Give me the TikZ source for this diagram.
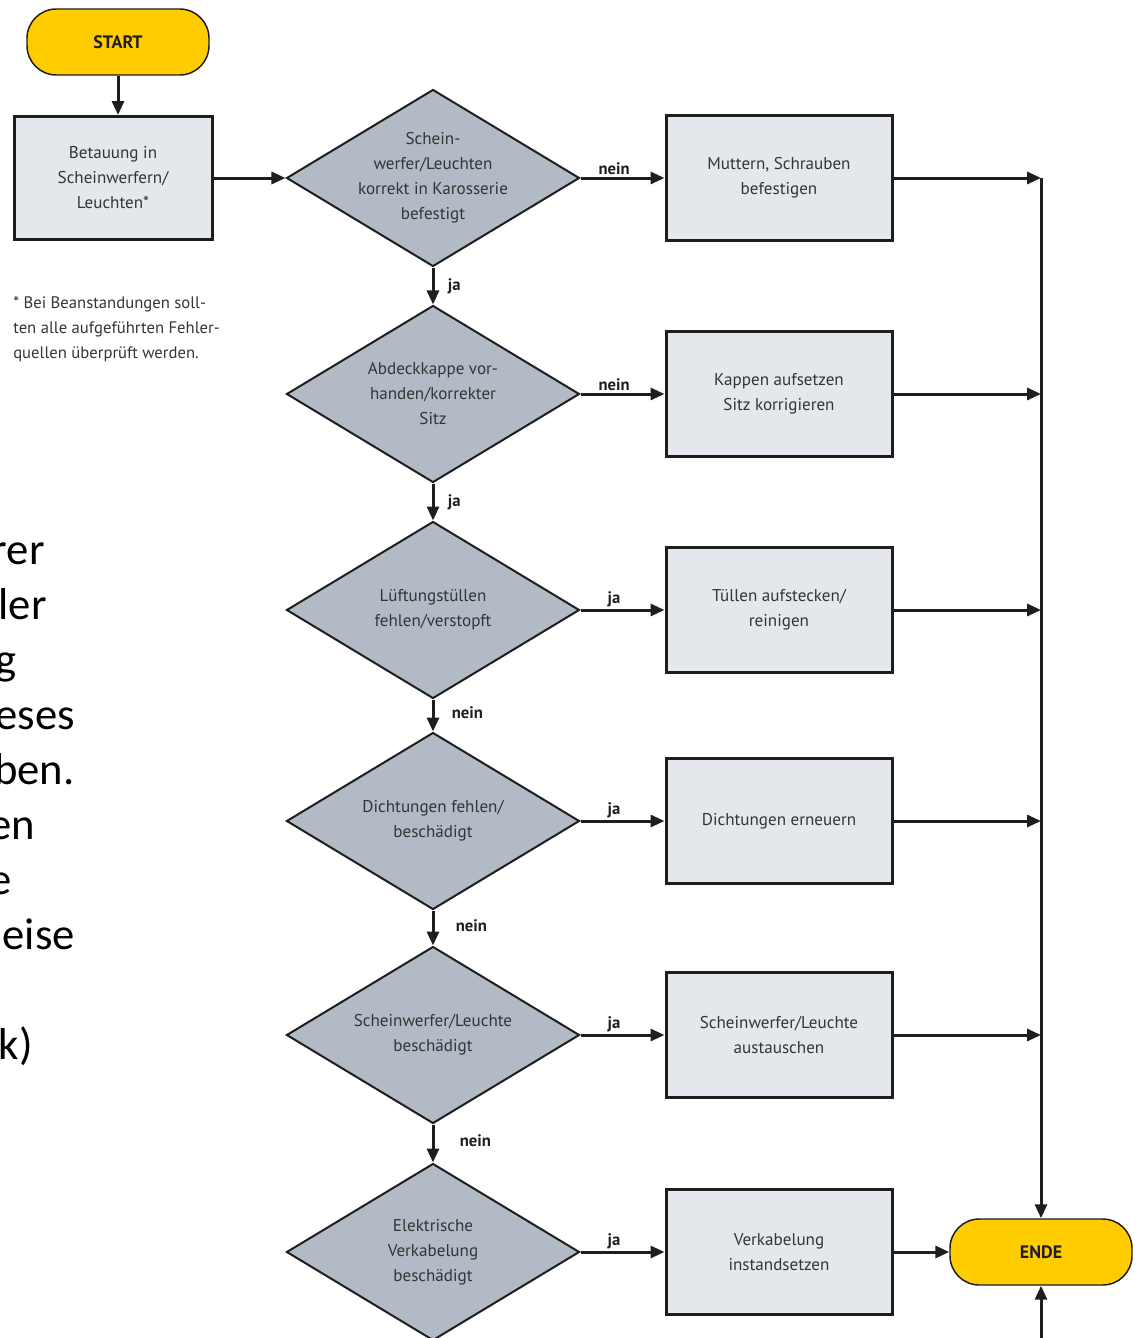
\documentclass[tikz,border=0pt]{standalone}
\usepackage{fontspec}
\setmainfont{PT Sans}
\newfontfamily\slidefont{Carlito}
\usetikzlibrary{shapes.geometric, arrows.meta}
\definecolor{startyellow}{HTML}{FFCC00}
\definecolor{boxgrey}{HTML}{E4E7EC}
\definecolor{diagrey}{HTML}{B1BAC5}
\definecolor{txtgrey}{HTML}{353535}
\definecolor{linegrey}{HTML}{1E1E1E}

\begin{document}
\begin{tikzpicture}[x=0.75pt,y=0.75pt,yscale=-1,
  arr/.style={draw=linegrey, line width=2.25pt, -{Triangle[length=10.5pt,width=9pt]}},
  term/.style={rectangle, rounded corners=22pt, draw=linegrey, line width=1.1pt, fill=startyellow, minimum width=136.5pt, minimum height=49.5pt, font=\bfseries\fontsize{13.5}{15}\selectfont, text=linegrey},
  stepbox/.style={rectangle, draw=linegrey, line width=2.25pt, fill=boxgrey, minimum width=169.5pt, minimum height=93.75pt, align=center, text=txtgrey, font=\fontsize{12.8}{18.75}\selectfont},
  query/.style={diamond, draw=linegrey, line width=1.5pt, fill=diagrey, minimum width=219.75pt, minimum height=132.75pt, inner sep=0pt},
  qtext/.style={align=center, text=txtgrey, font=\fontsize{12.8}{18.75}\selectfont, inner sep=0pt},
  lbl/.style={font=\bfseries\fontsize{12.5}{14}\selectfont, text=linegrey, inner sep=1pt},
  frag/.style={anchor=base east, font=\slidefont\fontsize{33.5}{40}\selectfont, inner sep=0pt}
]
\useasboundingbox (0,0) rectangle (1138,1338);
\clip (0,0) rectangle (1138,1338);

%Slide text cut off at the left edge
\node[frag] (frag1) at (45,564) {rer};
\node[frag] (frag2) at (47,619) {ler};
\node[frag] (frag3) at (17,674) {g};
\node[frag] (frag4) at (75,729) {eses};
\node[frag] (frag5) at (75,784) {ben.};
\node[frag] (frag6) at (35,839) {en};
\node[frag] (frag7) at (12,894) {e};
\node[frag] (frag8) at (75,949) {eise};
\node[frag] (frag9) at (33,1059) {k)};

%Terminals
\node[term] (start) at (118,42) {START};
\node[term] (ende) at (1041,1252) {ENDE};

%Entry box
\node[stepbox, minimum width=148.5pt, minimum height=92.25pt] (b0) at (113,178) {Betauung in\\Scheinwerfern/\\Leuchten*};

% Text Node
\node[anchor=north west, align=left, text=txtgrey, font=\fontsize{12.5}{18.75}\selectfont, inner sep=0pt] (note) at (13,296) {* Bei Beanstandungen soll-\\ten alle aufgeführten Fehler-\\quellen überprüft werden.};

%Decisions
\node[query] (d1) at (433,178) {};
\node[qtext] (d1t) at (d1) {Schein-\\werfer/Leuchten\\korrekt in Karosserie\\befestigt};
\node[query] (d2) at (433,394) {};
\node[qtext] (d2t) at (d2) {Abdeckkappe vor-\\handen/korrekter\\Sitz};
\node[query] (d3) at (433,610) {};
\node[qtext] (d3t) at (d3) {Lüftungstüllen\\fehlen/verstopft};
\node[query] (d4) at (433,821) {};
\node[qtext] (d4t) at (d4) {Dichtungen fehlen/\\beschädigt};
\node[query] (d5) at (433,1035) {};
\node[qtext] (d5t) at (d5) {Scheinwerfer/Leuchte\\beschädigt};
\node[query] (d6) at (433,1252) {};
\node[qtext] (d6t) at (d6) {Elektrische\\Verkabelung\\beschädigt};

%Actions
\node[stepbox] (r1) at (779,178) {Muttern, Schrauben\\befestigen};
\node[stepbox] (r2) at (779,394) {Kappen aufsetzen\\Sitz korrigieren};
\node[stepbox] (r3) at (779,610) {Tüllen aufstecken/\\reinigen};
\node[stepbox] (r4) at (779,821) {Dichtungen erneuern};
\node[stepbox] (r5) at (779,1035) {Scheinwerfer/Leuchte\\austauschen};
\node[stepbox] (r6) at (779,1252) {Verkabelung\\instandsetzen};

%Collector line
\coordinate (j1) at (1041,178);
\coordinate (j2) at (1041,394);
\coordinate (j3) at (1041,610);
\coordinate (j4) at (1041,821);
\coordinate (j5) at (1041,1035);
\coordinate (bot) at (1041,1350);

%Connectors
\draw[arr] (start.south) -- (start.south |- b0.north);
\draw[arr] (b0) -- (d1);
\draw[arr] (d1) -- node[lbl, anchor=west, xshift=9pt] {ja} (d2);
\draw[arr] (d2) -- node[lbl, anchor=west, xshift=9pt] {ja} (d3);
\draw[arr] (d3) -- node[lbl, anchor=west, xshift=12pt, yshift=2pt] {nein} (d4);
\draw[arr] (d4) -- node[lbl, anchor=west, xshift=15pt, yshift=2pt] {nein} (d5);
\draw[arr] (d5) -- node[lbl, anchor=west, xshift=18pt, yshift=2pt] {nein} (d6);

\draw[arr] (d1) -- node[lbl, above, pos=0.4] {nein} (r1);
\draw[arr] (d2) -- node[lbl, above, pos=0.4] {nein} (r2);
\draw[arr] (d3) -- node[lbl, above, pos=0.4] {ja} (r3);
\draw[arr] (d4) -- node[lbl, above, pos=0.4] {ja} (r4);
\draw[arr] (d5) -- node[lbl, above, pos=0.4] {ja} (r5);
\draw[arr] (d6) -- node[lbl, above, pos=0.4] {ja} (r6);

\draw[arr] (r1) -- (j1);
\draw[arr] (r2) -- (j2);
\draw[arr] (r3) -- (j3);
\draw[arr] (r4) -- (j4);
\draw[arr] (r5) -- (j5);
\draw[arr] (r6) -- (ende);
\draw[arr] (j1) -- (ende);
\draw[arr] (bot) -- (ende);

\end{tikzpicture}
\end{document}
